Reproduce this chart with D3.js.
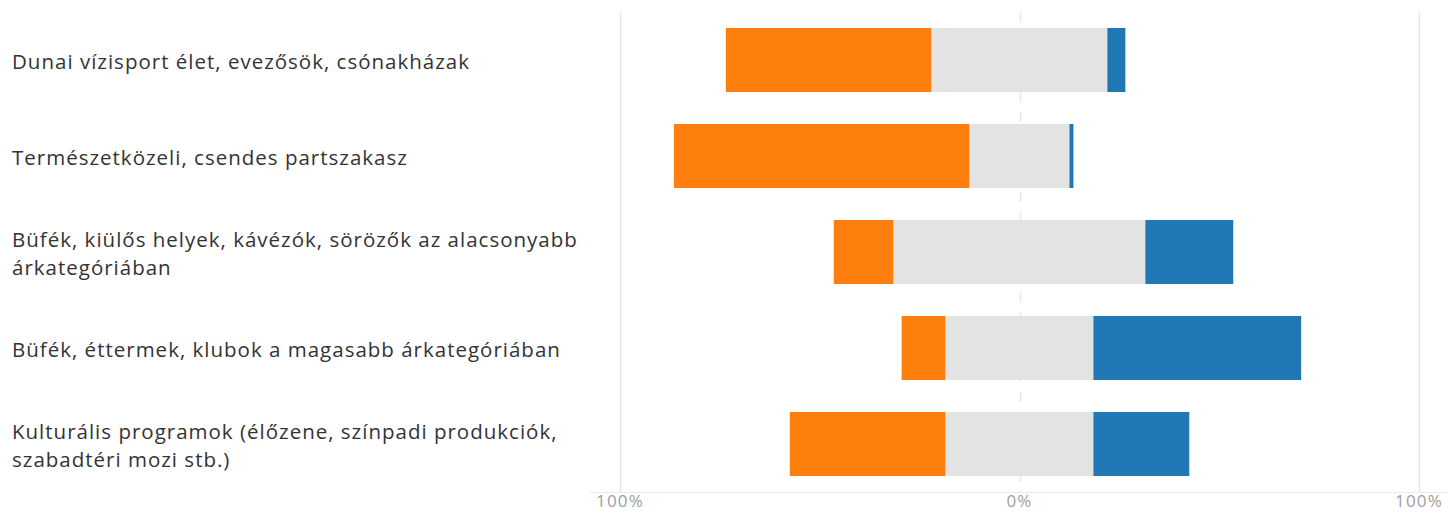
<!DOCTYPE html>
<html>
<head>
<meta charset="utf-8">
<script src="https://cdn.jsdelivr.net/npm/d3@7"></script>
<style>
  html, body { margin: 0; padding: 0; background: #fff; }
  svg { display: block; }
</style>
</head>
<body>
<svg id="chart" width="1448" height="513"></svg>
<script>
const categories = [
  ["Dunai vízisport élet, evezősök, csónakházak"],
  ["Természetközeli, csendes partszakasz"],
  ["Büfék, kiülős helyek, kávézók, sörözők az alacsonyabb", "árkategóriában"],
  ["Büfék, éttermek, klubok a magasabb árkategóriában"],
  ["Kulturális programok (élőzene, színpadi produkciók,", "szabadtéri mozi stb.)"]
];
const negative = [51.5, 74, 15, 11, 39];
const neutral  = [44, 25, 63, 37, 37];
const positive = [4.5, 1, 22, 52, 24];
const tickValues = [-100, 0, 100];
const tickLabels = ["100%", "0%", "100%"];

const svg = d3.select("#chart");
const x = d3.scaleLinear().domain([-100, 100]).range([620, 1419]);
const y = d3.scaleBand().domain(d3.range(categories.length)).range([12, 492])
  .paddingInner(1/3).paddingOuter(1/6);

// grid
svg.append("line").attr("x1", 590).attr("x2", 1448).attr("y1", 492.5).attr("y2", 492.5)
  .attr("stroke", "#ebebeb").attr("stroke-width", 1);
tickValues.forEach(v => {
  svg.append("line")
    .attr("x1", Math.round(x(v)) + 0.5).attr("x2", Math.round(x(v)) + 0.5)
    .attr("y1", 12).attr("y2", 492)
    .attr("stroke", "#e6e6e6").attr("stroke-width", 1.5)
    .attr("stroke-dasharray", v === 0 ? "10,10" : null);
});

const rows = categories.map((c, i) => {
  const n = neutral[i];
  return [
    {x0: -n/2 - negative[i], x1: -n/2, color: "#ff7f0e"},
    {x0: -n/2, x1: n/2, color: "#e3e3e3"},
    {x0: n/2, x1: n/2 + positive[i], color: "#1f77b4"}
  ].map(s => ({...s, i}));
});

svg.append("g").selectAll("rect").data(rows.flat()).join("rect")
  .attr("x", d => x(d.x0))
  .attr("width", d => x(d.x1) - x(d.x0))
  .attr("y", d => y(d.i))
  .attr("height", y.bandwidth())
  .attr("fill", d => d.color);

// tick labels
svg.append("g").selectAll("text").data(tickValues).join("text")
  .attr("x", d => x(d)).attr("y", 507)
  .attr("text-anchor", "middle")
  .attr("font-family", "'Open Sans', 'Noto Sans', sans-serif")
  .attr("font-size", 17).attr("letter-spacing", 1.2).attr("fill", "#a0a0a0")
  .text((d, i) => tickLabels[i]);

// category labels
const lab = svg.append("g").selectAll("text").data(categories).join("text")
  .attr("font-family", "'Open Sans', 'Noto Sans', sans-serif")
  .attr("font-size", 20.5).attr("letter-spacing", 1.0).attr("fill", "#333");
lab.each(function(lines, i) {
  const cy = y(i) + y.bandwidth() / 2;
  const lh = 28;
  const start = cy + 2 - (lines.length - 1) * lh / 2;
  d3.select(this).selectAll("tspan").data(lines).join("tspan")
    .attr("x", 12).attr("y", (d, k) => start + k * lh)
    .attr("dy", "0.35em").text(d => d);
});
</script>
</body>
</html>
